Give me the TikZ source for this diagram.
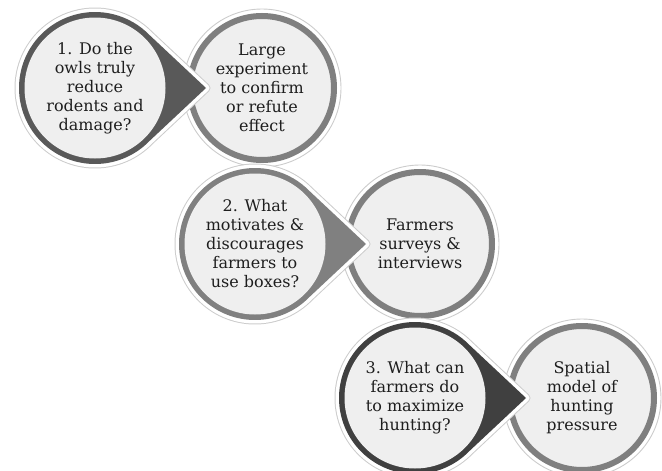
\documentclass[tikz,border=0pt]{standalone}
\usepackage{fontspec}
\setmainfont{DejaVu Serif}
\usetikzlibrary{calc}

\definecolor{lightfill}{HTML}{EFEFEF}
\definecolor{ansring}{HTML}{7F7F7F}
\definecolor{darkA}{HTML}{595959}
\definecolor{darkB}{HTML}{808080}
\definecolor{darkC}{HTML}{404040}
\definecolor{txtgray}{HTML}{1E1E1E}

% circle of radius 76 with a point sticking out to the right
\newcommand\droppath[1]{($(#1)+(44:76)$) arc[start angle=44,end angle=316,radius=76] -- ($(#1)+(111,0)$) -- cycle}

\tikzset{
  cirtext/.style={align=center,text=txtgray,font=\fontsize{16}{19}\selectfont},
}

\begin{document}
\begin{tikzpicture}[x=1pt,y=-1pt]
        \useasboundingbox (0,0) rectangle (662,471);
        \coordinate (c1) at (95,88);
        \coordinate (d1) at (262,88);
        \coordinate (c2) at (255,244);
        \coordinate (d2) at (420,244);
        \coordinate (c3) at (415,398);
        \coordinate (d3) at (582,398);
        \foreach \c/\d/\col in {c1/d1/darkA, c2/d2/darkB, c3/d3/darkC} {
          \draw[gray!40,line width=0.9pt,fill=white] (\d) circle[radius=79];
          \draw[ansring,line width=6pt,fill=lightfill] (\d) circle[radius=72];
          \draw[gray!40,line width=9pt,line join=round] \droppath{\c};
          \draw[white,line width=7pt,line join=round] \droppath{\c};
          \fill[\col] \droppath{\c};
          \fill[lightfill] (\c) circle[radius=70.5];
        }
        \node[cirtext] (q1) at (c1) {1. Do the\\owls truly\\reduce\\rodents and\\damage?};
        \node[cirtext] (a1) at (d1) {Large\\experiment\\to confirm\\or refute\\effect};
        \node[cirtext] (q2) at (c2) {2. What\\motivates \&\\discourages\\farmers to\\use boxes?};
        \node[cirtext] (a2) at (d2) {Farmers\\surveys \&\\interviews};
        \node[cirtext] (q3) at (c3) {3. What can\\farmers do\\to maximize\\hunting?};
        \node[cirtext] (a3) at (d3) {Spatial\\model of\\hunting\\pressure};
      \end{tikzpicture}
\end{document}
